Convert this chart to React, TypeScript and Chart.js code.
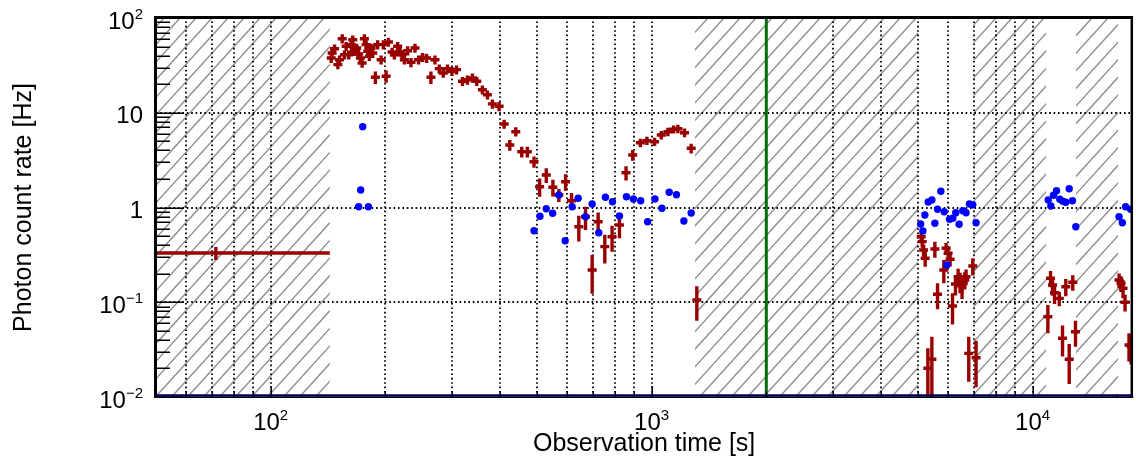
import React, { useEffect, useRef } from "react";
import { Chart, registerables } from "chart.js";

Chart.register(...registerables);

// ---------- data ----------
const X_MIN = 50;
const X_MAX = 18270;
const Y_MIN = 0.01;
const Y_MAX = 100;

const redTime = [
  145.0, 147.1, 144.2, 150.1, 151.6, 154.1, 156.2, 157.8, 160.3, 162.7, 164.2, 165.9, 168.2, 170.2, 172.0, 173.8,
  176.2, 178.0, 179.8, 181.6, 183.5, 185.3, 188.3, 190.9, 194.9, 197.6, 200.9, 203.7, 208.3, 211.2, 215.4, 218.6,
  221.2, 224.3, 228.8, 233.5, 239.2, 244.5, 250.4, 256.6, 263.4, 269.9, 277.0, 283.8, 291.2, 299.1, 307.5, 318.8,
  328.5, 338.6, 347.6, 359.5, 370.6, 381.9, 397.7,
  410, 424.3, 439.9, 456.1, 471.8, 491.2, 508.2, 528.9, 550.6, 570.8, 594.4, 616.3, 644.0, 670.6, 698.0, 723.7,
  753.5, 787.4, 823.2, 856.7, 891.9, 934.1, 971.9, 1018, 1060, 1103, 1142, 1172, 1220, 1270, 1314,
  5101, 5132, 5175, 5225, 5310, 5440, 5540, 5630, 5848, 5930, 6001, 6074, 6163, 6274, 6375, 6451, 6529, 6637,
  6689, 6799, 6966, 7106,
  10967, 11146, 11282, 11418, 11748, 11983, 12223, 12477, 12750, 12960,
  16866, 17070, 17275, 17487, 17911, 18150,
];

const redRate = [
  42.7, 47.4, 37.8, 32.2, 36.3, 60.5, 41.0, 50.3, 41.0, 52.3, 59.0, 44.5, 48.2, 41.7, 37.8, 33.5,
  60.5, 52.3, 44.5, 39.4, 48.2, 42.7, 23.7, 52.3, 36.3, 52.3, 24.3, 55.8, 43.8, 41.0, 50.3, 43.8,
  41.0, 36.3, 45.2, 34.1, 48.2, 36.3, 38.5, 37.8, 23.7, 36.3, 29.2, 26.3, 29.2, 27.4, 28.5, 21.5,
  22.3, 23.3, 21.5, 17.5, 15.5, 12.4, 11.7,
  7.61, 4.57, 6.31, 3.88, 3.88, 3.04, 1.658, 2.2, 1.634, 1.355, 1.873, 1.18, 0.627, 0.8, 0.219, 0.708,
  0.386, 0.492, 0.654, 2.33, 3.58, 4.83, 5.07, 4.95, 5.82, 6.31, 6.69, 6.79, 6.16, 4.22, 0.1056,
  0.492, 0.436, 0.356, 0.291, 0.0201, 0.025, 0.365, 0.1213, 0.219, 0.371, 0.329, 0.284, 0.0913, 0.1558, 0.186,
  0.1648, 0.1484, 0.1717, 0.186, 0.0289, 0.2413, 0.026,
  0.0704, 0.179, 0.152, 0.126, 0.11, 0.0417, 0.146, 0.025, 0.1624, 0.0489,
  0.1717, 0.1585, 0.1403, 0.0999, 0.0354, 0.034,
];

const redErr = [
  4.7, 5.2, 4.2, 3.5, 4.0, 6.7, 4.5, 5.5, 4.5, 5.8, 6.5, 4.9, 5.3, 4.6, 4.2, 3.7,
  6.7, 5.8, 4.9, 4.3, 5.3, 4.7, 3.6, 5.8, 4.0, 5.8, 3.6, 6.1, 4.8, 4.5, 5.5, 4.8,
  4.5, 4.0, 5.0, 3.8, 5.3, 4.0, 4.2, 4.2, 3.6, 4.0, 3.2, 2.9, 3.2, 3.0, 3.1, 2.4,
  2.5, 2.6, 2.4, 1.9, 1.7, 1.4, 1.3,
  0.85, 0.6, 0.7, 0.5, 0.5, 0.42, 0.36, 0.39, 0.33, 0.21, 0.37, 0.24, 0.19, 0.22, 0.096, 0.18,
  0.13, 0.15, 0.18, 0.4, 0.46, 0.5, 0.5, 0.5, 0.6, 0.65, 0.65, 0.7, 0.65, 0.5, 0.042,
  0.07, 0.06, 0.05, 0.054, 0.0126, 0.0183, 0.071, 0.037, 0.06, 0.05, 0.05, 0.045, 0.033, 0.038, 0.04,
  0.04, 0.04, 0.035, 0.035, 0.0144, 0.05, 0.0133,
  0.0232, 0.035, 0.035, 0.03, 0.019, 0.015, 0.03, 0.0113, 0.03, 0.015,
  0.03, 0.03, 0.03, 0.02, 0.0117, 0.012,
];

// first (long) time bin
const longBinTime = [71.8];
const longBinLow = [1];
const longBinHigh = [143];
const longBinRate = [0.331];
const longBinErr = [0.052];

const blueTime = [
  174.4, 172.3, 170.2, 180.5,
  491.2, 509.1, 528.9, 549.7, 570.8, 592.9, 618.6, 641.3, 670.6, 698.0, 726.6, 756.4, 789.2, 823.2, 858.8,
  895.6, 935.9, 976.1, 1020, 1064, 1112, 1162, 1215, 1270,
  5083, 5152, 5215, 5320, 5440, 5540, 5630, 5743, 5862, 5957, 6054, 6176, 6287, 6414, 6559, 6689, 6827, 6966, 7106,
  10993, 11166, 11350, 11556, 11789, 12003, 12223, 12477, 12726, 12985,
  16866, 17204, 17547, 18087,
];

const blueRate = [
  7.13, 1.53, 1.02, 1.02,
  0.569, 0.808, 0.971, 0.869, 1.355, 0.446, 1.02, 1.251, 0.8, 1.089, 0.542, 1.281, 1.151, 0.813, 1.3,
  1.229, 1.18, 0.708, 1.229, 0.981, 1.447, 1.365, 0.72, 0.875,
  0.67, 0.565, 0.833, 1.143, 1.2, 0.681, 0.957, 1.482, 0.903, 0.247, 0.751, 0.769, 0.881, 0.665, 0.925, 0.881, 1.089, 1.071, 0.691,
  1.2, 1.037, 1.345, 1.504, 1.22, 1.163, 1.135, 1.579, 1.18, 0.627,
  0.8, 0.691, 1.02, 0.957,
];

// shaded (hatched) time intervals
const hatchStart = [1, 1300, 7000, 13000];
const hatchEnd = [143, 5000, 10850, 16750];

// vertical marker
const markerTime = [2000];

// tick labels
const xTickValues = [100, 1000, 10000];
const xTickBase = ["10", "10", "10"];
const xTickExp = ["2", "3", "4"];
const yTickValues = [0.01, 0.1, 1, 10, 100];
const yTickBase = ["10", "10", "1", "10", "10"];
const yTickExp = ["\u22122", "\u22121", "", "", "2"];

const xTitle = "Observation time [s]";
const yTitle = "Photon count rate [Hz]";

// ---------- style ----------
const RED = "#990000";
const BLUE = "#0000ff";
const FONT = '"Liberation Sans", Arial, Helvetica, sans-serif';

function drawPowLabel(
  ctx: CanvasRenderingContext2D,
  base: string,
  exp: string,
  anchorX: number,
  centerY: number,
  align: "right" | "center"
) {
  ctx.font = `24px ${FONT}`;
  const wb = ctx.measureText(base).width;
  ctx.font = `15px ${FONT}`;
  const we = exp ? ctx.measureText(exp).width : 0;
  const total = wb + we;
  const x0 = align === "right" ? anchorX - total : anchorX - total / 2;
  const baseline = centerY + 8.6;
  ctx.textAlign = "left";
  ctx.textBaseline = "alphabetic";
  ctx.font = `24px ${FONT}`;
  ctx.fillText(base, x0, baseline);
  if (exp) {
    ctx.font = `15px ${FONT}`;
    ctx.fillText(exp, x0 + wb, baseline - 9.5);
  }
}

function minorValues(min: number, max: number): { v: number; major: boolean }[] {
  const out: { v: number; major: boolean }[] = [];
  for (let e = Math.floor(Math.log10(min)) - 1; e <= Math.ceil(Math.log10(max)); e++) {
    for (let m = 1; m <= 9; m++) {
      const v = m * Math.pow(10, e);
      if (v >= min * 0.9999 && v <= max * 1.0001) out.push({ v, major: m === 1 });
    }
  }
  return out;
}

const decorPlugin = {
  id: "decor",
  beforeDatasetsDraw(chart: any) {
    const { ctx, chartArea: a, scales } = chart;
    const xs = scales.x;
    const ys = scales.y;
    const H = a.bottom - a.top;

    // hatched intervals
    for (let r = 0; r < hatchStart.length; r++) {
      const x1 = Math.max(a.left, xs.getPixelForValue(hatchStart[r]));
      const x2 = Math.min(a.right, xs.getPixelForValue(hatchEnd[r]));
      if (x2 <= x1) continue;
      ctx.save();
      ctx.beginPath();
      ctx.rect(x1, a.top, x2 - x1, H);
      ctx.clip();
      ctx.strokeStyle = "#8f8f8f";
      ctx.lineWidth = 1.4;
      ctx.beginPath();
      const run = H / 1.1;
      for (let x0 = a.left - run - 40; x0 < a.right + 20; x0 += 16) {
        ctx.moveTo(x0, a.bottom);
        ctx.lineTo(x0 + run, a.top);
      }
      ctx.stroke();
      ctx.restore();
    }

    // dotted grid
    ctx.save();
    ctx.strokeStyle = "#000000";
    ctx.lineWidth = 1.8;
    ctx.setLineDash([1.6, 2.8]);
    ctx.beginPath();
    for (const t of minorValues(X_MIN, X_MAX)) {
      const px = Math.round(xs.getPixelForValue(t.v));
      if (px <= a.left + 1 || px >= a.right - 1) continue;
      ctx.moveTo(px, a.bottom);
      ctx.lineTo(px, a.top);
    }
    for (const v of yTickValues) {
      const py = Math.round(ys.getPixelForValue(v));
      if (py <= a.top + 1 || py >= a.bottom - 1) continue;
      ctx.moveTo(a.left, py);
      ctx.lineTo(a.right, py);
    }
    ctx.stroke();
    ctx.restore();

    // red error crosses
    ctx.save();
    ctx.beginPath();
    ctx.rect(a.left, a.top, a.right - a.left, H);
    ctx.clip();
    ctx.strokeStyle = RED;
    ctx.lineWidth = 3.4;
    ctx.lineCap = "butt";
    const meta = chart.getDatasetMeta(0);
    ctx.beginPath();
    for (let i = 0; i < redTime.length; i++) {
      const el = meta.data[i];
      const px = el.x;
      const py = el.y;
      const top = ys.getPixelForValue(redRate[i] + redErr[i]);
      const lo = redRate[i] - redErr[i];
      const bot = lo > 0 ? ys.getPixelForValue(lo) : a.bottom + 20;
      ctx.moveTo(px, top);
      ctx.lineTo(px, bot);
      ctx.moveTo(px - 4.5, py);
      ctx.lineTo(px + 4.5, py);
    }
    for (let i = 0; i < longBinTime.length; i++) {
      const px = xs.getPixelForValue(longBinTime[i]);
      const py = ys.getPixelForValue(longBinRate[i]);
      ctx.moveTo(xs.getPixelForValue(longBinLow[i]), py);
      ctx.lineTo(xs.getPixelForValue(longBinHigh[i]), py);
      ctx.moveTo(px, ys.getPixelForValue(longBinRate[i] + longBinErr[i]));
      ctx.lineTo(px, ys.getPixelForValue(longBinRate[i] - longBinErr[i]));
    }
    ctx.stroke();
    ctx.restore();
  },
  afterDatasetsDraw(chart: any) {
    const { ctx, chartArea: a, scales } = chart;
    const xs = scales.x;
    const ys = scales.y;

    ctx.save();
    // green marker line
    ctx.strokeStyle = "#086c08";
    ctx.lineWidth = 3;
    ctx.beginPath();
    for (const t of markerTime) {
      const px = xs.getPixelForValue(t);
      ctx.moveTo(px, a.top);
      ctx.lineTo(px, a.bottom);
    }
    ctx.stroke();

    // ticks (inward)
    ctx.strokeStyle = "#000";
    ctx.lineWidth = 1.6;
    ctx.beginPath();
    for (const t of minorValues(Y_MIN, Y_MAX)) {
      const py = Math.round(ys.getPixelForValue(t.v)) + 0.25;
      ctx.moveTo(a.left, py);
      ctx.lineTo(a.left + (t.major ? 27 : 14), py);
    }
    for (const t of minorValues(X_MIN, X_MAX)) {
      const px = Math.round(xs.getPixelForValue(t.v)) + 0.25;
      ctx.moveTo(px, a.bottom);
      ctx.lineTo(px, a.bottom - (t.major ? 11 : 5.5));
    }
    ctx.stroke();

    // frame
    ctx.strokeStyle = "#000";
    ctx.lineWidth = 3;
    ctx.beginPath();
    ctx.moveTo(a.left - 0.5, a.bottom + 1);
    ctx.lineTo(a.left - 0.5, a.top - 2);
    ctx.moveTo(a.left - 2, a.top - 0.5);
    ctx.lineTo(a.right, a.top - 0.5);
    ctx.stroke();
    ctx.lineWidth = 2.5;
    ctx.beginPath();
    ctx.moveTo(a.right - 0.5, a.top - 2);
    ctx.lineTo(a.right - 0.5, a.bottom + 1);
    ctx.stroke();
    ctx.strokeStyle = "#000";
    ctx.lineWidth = 1.5;
    ctx.beginPath();
    ctx.moveTo(a.left - 2, a.bottom + 0.25);
    ctx.lineTo(a.right + 1, a.bottom + 0.25);
    ctx.stroke();
    ctx.strokeStyle = "#00005a";
    ctx.lineWidth = 2.5;
    ctx.beginPath();
    ctx.moveTo(a.left, a.bottom - 1.5);
    ctx.lineTo(a.right, a.bottom - 1.5);
    ctx.stroke();

    // tick labels
    ctx.fillStyle = "#000";
    for (let i = 0; i < yTickValues.length; i++) {
      const py = ys.getPixelForValue(yTickValues[i]);
      drawPowLabel(ctx, yTickBase[i], yTickExp[i], 143, py + 2, "right");
    }
    for (let i = 0; i < xTickValues.length; i++) {
      const px = xs.getPixelForValue(xTickValues[i]);
      drawPowLabel(ctx, xTickBase[i], xTickExp[i], px, 421, "center");
    }

    // axis titles
    ctx.font = `25px ${FONT}`;
    ctx.textAlign = "center";
    ctx.textBaseline = "alphabetic";
    ctx.fillText(xTitle, (a.left + a.right) / 2, 451);
    ctx.translate(31, (a.top + a.bottom) / 2);
    ctx.rotate(-Math.PI / 2);
    ctx.fillText(yTitle, 0, 0);
    ctx.restore();
  },
};

export default function App() {
  const canvasRef = useRef<HTMLCanvasElement | null>(null);

  useEffect(() => {
    const canvas = canvasRef.current;
    if (!canvas) return;
    const chart = new Chart(canvas, {
      type: "scatter",
      data: {
        datasets: [
          {
            label: "rate",
            data: redTime.map((t, i) => ({ x: t, y: redRate[i] })),
            pointRadius: 0,
            pointHoverRadius: 0,
            showLine: false,
            backgroundColor: RED,
            borderColor: RED,
          },
          {
            label: "blue",
            data: blueTime.map((t, i) => ({ x: t, y: blueRate[i] })),
            pointRadius: 3.7,
            pointHoverRadius: 3.7,
            pointBorderWidth: 0,
            pointBackgroundColor: BLUE,
            backgroundColor: BLUE,
            borderColor: BLUE,
            showLine: false,
          },
        ],
      },
      options: {
        animation: false,
        responsive: false,
        devicePixelRatio: 1,
        events: [],
        layout: { padding: { top: 18, right: 1, left: 0, bottom: 0 } },
        plugins: {
          legend: { display: false },
          tooltip: { enabled: false },
        },
        scales: {
          x: {
            type: "logarithmic",
            min: X_MIN,
            max: X_MAX,
            grid: { display: false },
            border: { display: false },
            ticks: { display: false },
            afterFit: (s: any) => {
              s.height = 65;
            },
          },
          y: {
            type: "logarithmic",
            min: Y_MIN,
            max: Y_MAX,
            grid: { display: false },
            border: { display: false },
            ticks: { display: false },
            afterFit: (s: any) => {
              s.width = 156;
            },
          },
        },
      } as any,
      plugins: [decorPlugin],
    });
    return () => chart.destroy();
  }, []);

  return (
    <div style={{ position: "absolute", left: 0, top: 0, width: 1136, height: 462, background: "#fff" }}>
      <canvas ref={canvasRef} width={1136} height={462} style={{ display: "block" }} />
    </div>
  );
}
